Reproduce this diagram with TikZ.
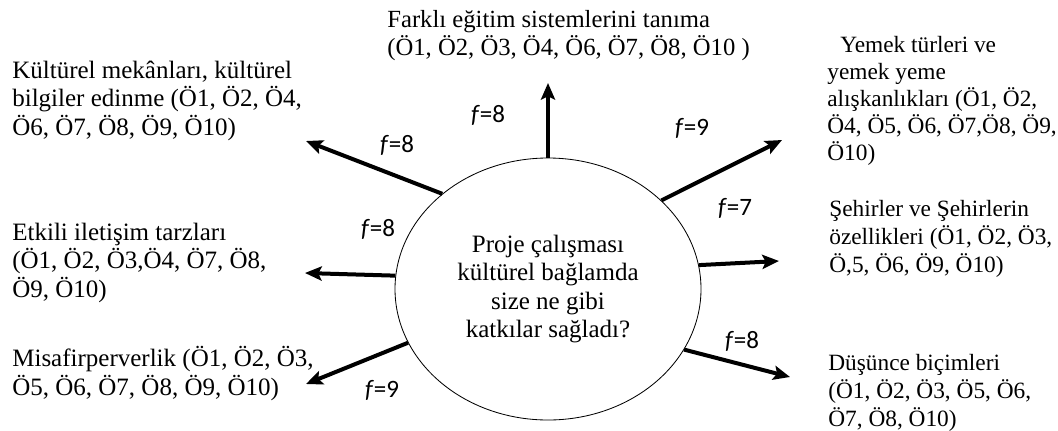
\documentclass[tikz,border=0pt]{standalone}
\usepackage{fontspec}
\setmainfont{Liberation Serif}
\newfontfamily\frekfont{Carlito}
\usetikzlibrary{arrows.meta, shapes.geometric}

\begin{document}
\begin{tikzpicture}[x=0.6pt, y=-0.6pt,
	yazi/.style={anchor=base west, inner sep=0pt, align=left, font=\fontsize{15}{17.1}\selectfont},
	sagyazi/.style={yazi, font=\fontsize{14}{16.6}\selectfont},
	frek/.style={anchor=base, inner sep=0pt, font=\frekfont\fontsize{15}{15}\selectfont},
	ok/.style={line width=2.4pt, -{Stealth[length=10pt, width=8.5pt, inset=2pt]}}]
	% parametreler
	\def\W{1058} % genişlik (px)
	\def\H{430}  % yükseklik (px)

	% sayfa sınırı
	\useasboundingbox (0,0) rectangle (\W,\H);

	% ortadaki soru
	\node[draw, ellipse, line width=0.5pt, inner sep=0pt,
		minimum width=306*0.6pt, minimum height=262*0.6pt,
		align=center, font=\fontsize{15}{17.1}\selectfont] (soru) at (548,289)
		{Proje çalışması\\kültürel bağlamda\\size ne gibi\\katkılar sağladı?};

	% okların uçları
	\coordinate (u1) at (548,83);
	\coordinate (u2) at (306,141);
	\coordinate (u3) at (782,140);
	\coordinate (u4) at (305,273);
	\coordinate (u5) at (779,261);
	\coordinate (u6) at (306,384);
	\coordinate (u7) at (790,377);

	% oklar
	\draw[ok] (soru.90) -- (u1);
	\draw[ok] (soru.138) -- (u2);
	\draw[ok] (soru.38) -- (u3);
	\draw[ok] (soru.175) -- (u4);
	\draw[ok] (soru.9.6) -- (u5);
	\draw[ok] (soru.201) -- (u6);
	\draw[ok] (soru.336) -- (u7);

	% katkılar (son satırın taban çizgisinde)
	\node[yazi, font=\fontsize{14.8}{16.8}\selectfont] (egitim) at (387,55)
		{Farklı eğitim sistemlerini tanıma\\(Ö1, Ö2, Ö3, Ö4, Ö6, Ö7, Ö8, Ö10 )};
	\node[yazi] (mekan) at (12,135)
		{Kültürel mekânları, kültürel\\bilgiler edinme (Ö1, Ö2, Ö4,\\Ö6, Ö7, Ö8, Ö9, Ö10)};
	\node[yazi] (iletisim) at (12,297)
		{Etkili iletişim tarzları\\(Ö1, Ö2, Ö3,Ö4, Ö7, Ö8,\\Ö9, Ö10)};
	\node[yazi] (misafir) at (12,395)
		{Misafirperverlik (Ö1, Ö2, Ö3,\\Ö5, Ö6, Ö7, Ö8, Ö9, Ö10)};
	\node[sagyazi, font=\fontsize{14}{16.2}\selectfont] (yemek) at (827,160)
		{\hspace*{7.8pt}Yemek türleri ve\\yemek yeme\\alışkanlıkları (Ö1, Ö2,\\Ö4, Ö5, Ö6, Ö7,Ö8, Ö9,\\Ö10)};
	\node[sagyazi] (sehir) at (829,272)
		{Şehirler ve Şehirlerin\\özellikleri (Ö1, Ö2, Ö3,\\Ö,5, Ö6, Ö9, Ö10)};
	\node[sagyazi] (dusunce) at (828,426)
		{Düşünce biçimleri\\(Ö1, Ö2, Ö3, Ö5, Ö6,\\Ö7, Ö8, Ö10)};

	% frekanslar
	\node[frek] (f1) at (488,122) {\textit{f}=8};
	\node[frek] (f2) at (397,152) {\textit{f}=8};
	\node[frek] (f3) at (692,135) {\textit{f}=9};
	\node[frek] (f4) at (735,215) {\textit{f}=7};
	\node[frek] (f5) at (378,236) {\textit{f}=8};
	\node[frek] (f6) at (382,397) {\textit{f}=9};
	\node[frek] (f7) at (742,348) {\textit{f}=8};
\end{tikzpicture}
\end{document}
